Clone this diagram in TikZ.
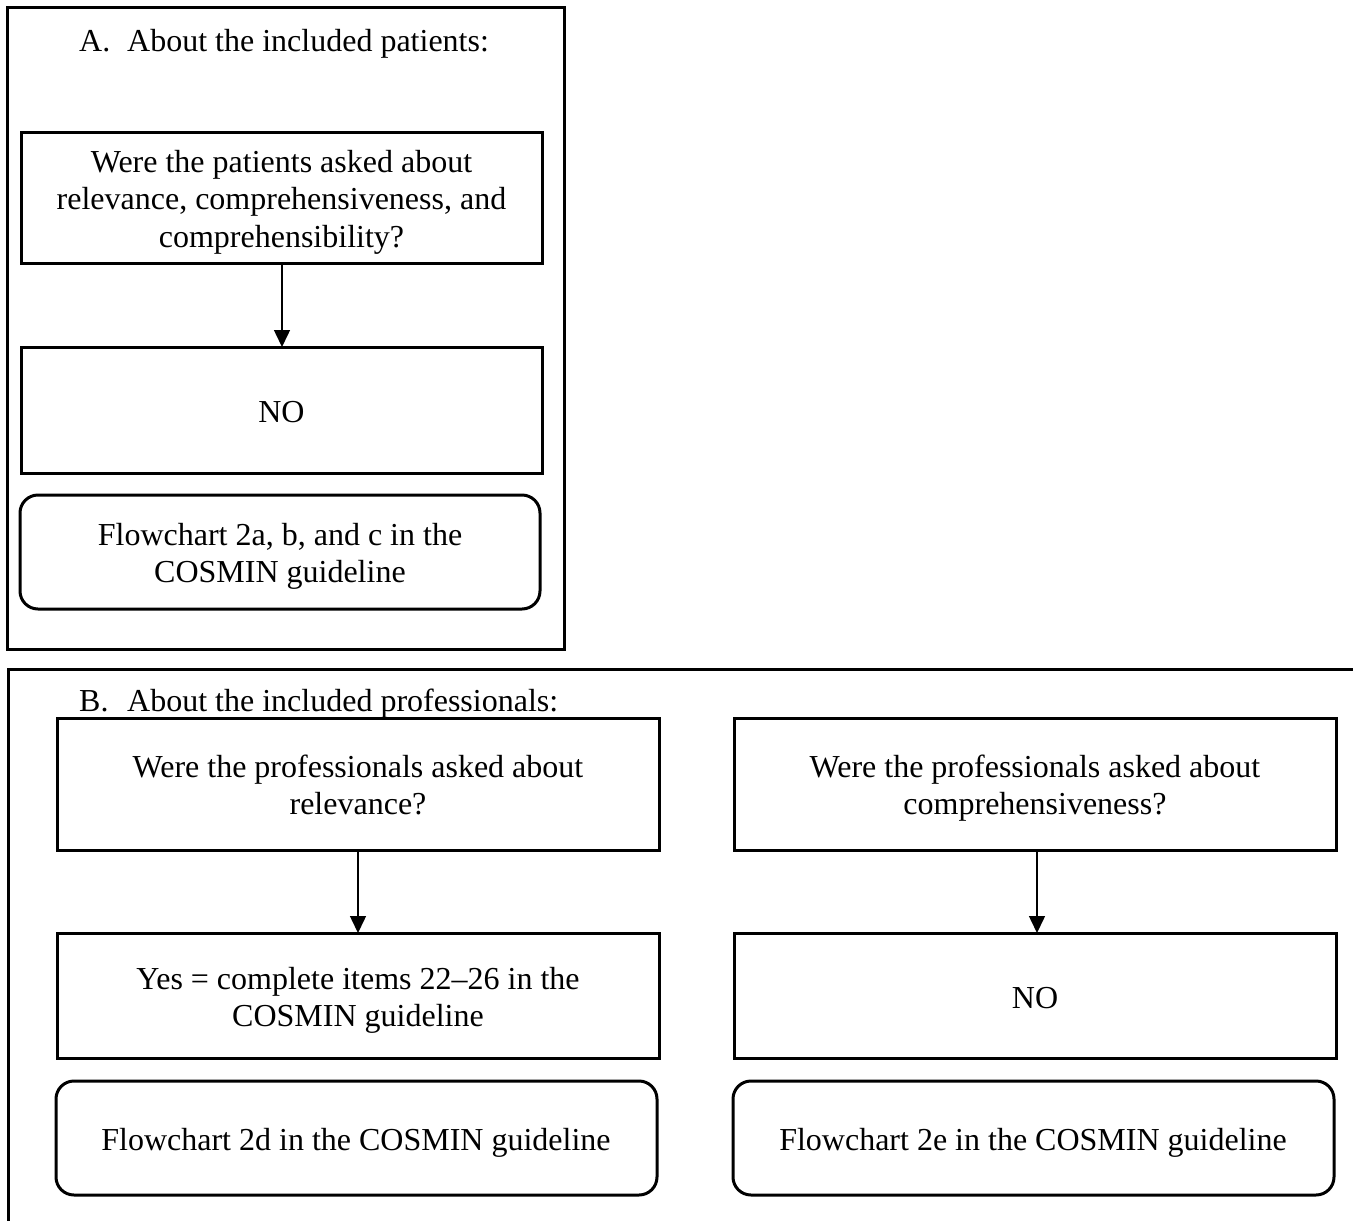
\documentclass[tikz,border=0pt]{standalone}
\usepackage{fontspec}
\setmainfont{Liberation Serif}
\usetikzlibrary{arrows.meta}
\begin{document}
\begin{tikzpicture}[x=1pt,y=-1pt,
  txt/.style={font=\fontsize{32}{37.5}\selectfont, align=center, inner sep=0pt, yshift=-4.5pt},
  ttl/.style={font=\fontsize{32}{37.5}\selectfont, inner sep=0pt, anchor=base west},
  frame/.style={draw, line width=3pt},
  qbox/.style={draw, line width=3pt},
  endbox/.style={draw, line width=3pt, rounded corners=18pt},
  flow/.style={line width=1.5pt, -{Triangle[length=17pt,width=16pt]}}]
\useasboundingbox (0,0) rectangle (1353,1221);

% Part A frame
\draw[frame] (7,7) rectangle (564,649);
\node[ttl] (tA1) at (79,51) {A.};
\node[ttl] (tA2) at (127,51) {About the included patients:};

\draw[qbox] (21,132) rectangle (542,263);
\node[txt] (qa) at (281.5,197.5) {Were the patients asked about\strut\\relevance, comprehensiveness, and\strut\\comprehensibility?\strut};
\coordinate (qaS) at (282,263);
\draw[qbox] (21,347) rectangle (542,473);
\node[txt] (na) at (281.5,410) {NO\strut};
\coordinate (naN) at (282,347);
\draw[endbox] (20,495) rectangle (540,609);
\node[txt] (fa) at (280,552) {Flowchart 2a, b, and c in the\strut\\COSMIN guideline\strut};
\draw[flow] (qaS) -- (naN);

% Part B frame (open to the right and below)
\draw[frame] (1353,669) -- (8,669) -- (8,1221);
\node[ttl] (tB1) at (79,711) {B.};
\node[ttl] (tB2) at (127,711) {About the included professionals:};

% left column
\draw[qbox] (57,718) rectangle (659,850);
\node[txt] (qb) at (358,784) {Were the professionals asked about\strut\\relevance?\strut};
\coordinate (qbS) at (358,850);
\draw[qbox] (57,933) rectangle (659,1058);
\node[txt] (yb) at (358,996) {Yes = complete items 22--26 in the\strut\\COSMIN guideline\strut};
\coordinate (ybN) at (358,933);
\draw[endbox] (56,1081) rectangle (657,1195);
\node[txt] (fb) at (356,1138) {Flowchart 2d in the COSMIN guideline\strut};
\draw[flow] (qbS) -- (ybN);

% right column
\draw[qbox] (734,718) rectangle (1336,850);
\node[txt] (qc) at (1035,784) {Were the professionals asked about\strut\\comprehensiveness?\strut};
\coordinate (qcS) at (1037,850);
\draw[qbox] (734,933) rectangle (1336,1058);
\node[txt] (nc) at (1035,996) {NO\strut};
\coordinate (ncN) at (1037,933);
\draw[endbox] (733,1081) rectangle (1334,1195);
\node[txt] (fc) at (1033,1138) {Flowchart 2e in the COSMIN guideline\strut};
\draw[flow] (qcS) -- (ncN);
\end{tikzpicture}
\end{document}
